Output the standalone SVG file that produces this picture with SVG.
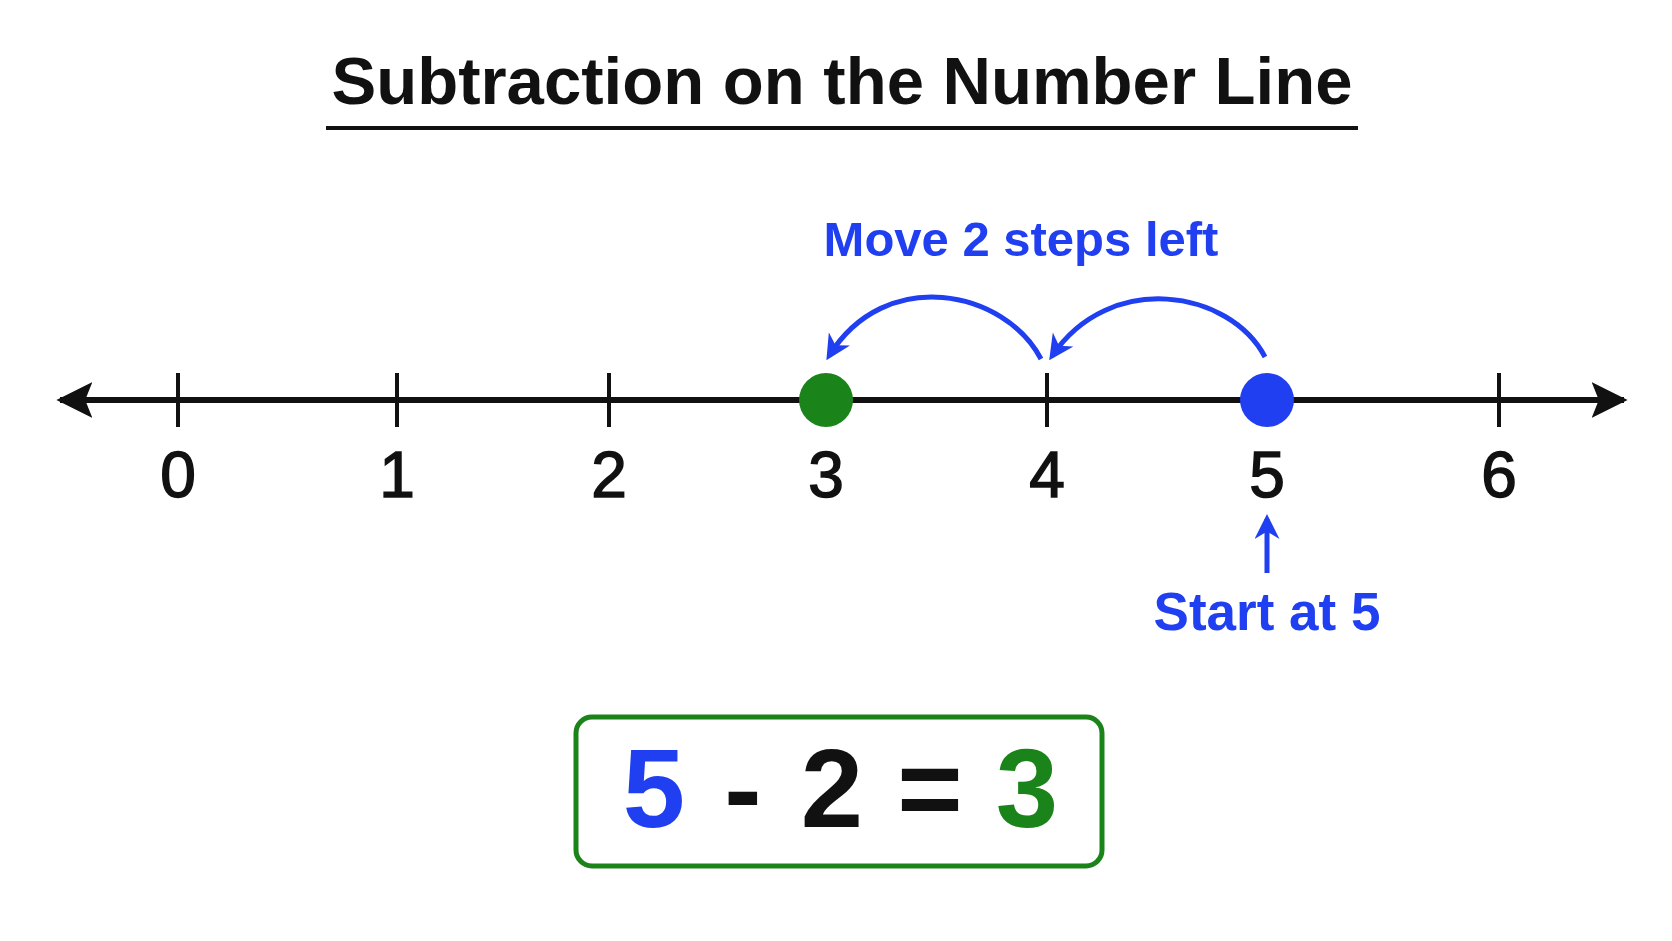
<svg xmlns="http://www.w3.org/2000/svg" width="1672" height="941" viewBox="0 0 1672 941">
<style>
text{font-family:"Liberation Sans","DejaVu Sans",sans-serif;font-weight:bold;text-anchor:middle}
.num{font-size:64px;fill:#111;font-weight:normal;stroke:#111;stroke-width:1.5}
.blue{fill:#1f3ff0}
.tick{stroke:#111;stroke-width:4}
</style>
<defs>
<marker id="ah" viewBox="0 0 10 10" refX="8" refY="5" markerWidth="5" markerHeight="5" orient="auto-start-reverse"><path d="M0,0L10,5L0,10L3,5Z" fill="#1f3ff0"/></marker>
<marker id="bk" viewBox="0 0 10 10" refX="9" refY="5" markerWidth="6" markerHeight="6" orient="auto-start-reverse"><path d="M0,0L10,5L0,10L2,5Z" fill="#111"/></marker>
</defs>
<rect width="1672" height="941" fill="#fff"/>
<g id="title">
<text x="842" y="104" font-size="66" textLength="1021" lengthAdjust="spacingAndGlyphs" fill="#111">Subtraction on the Number Line</text>
<line x1="326" y1="128" x2="1358" y2="128" stroke="#111" stroke-width="4"/>
</g>
<g id="numberline">
<line x1="60" y1="400" x2="1624" y2="400" stroke="#111" stroke-width="6" marker-start="url(#bk)" marker-end="url(#bk)"/>
<line class="tick" x1="178" y1="373" x2="178" y2="427"/>
<line class="tick" x1="397" y1="373" x2="397" y2="427"/>
<line class="tick" x1="609" y1="373" x2="609" y2="427"/>
<line class="tick" x1="1047" y1="373" x2="1047" y2="427"/>
<line class="tick" x1="1499" y1="373" x2="1499" y2="427"/>
<text class="num" x="178" y="497">0</text>
<text class="num" x="397" y="497">1</text>
<text class="num" x="609" y="497">2</text>
<text class="num" x="826" y="497">3</text>
<text class="num" x="1047" y="497">4</text>
<text class="num" x="1267" y="497">5</text>
<text class="num" x="1499" y="497">6</text>
</g>
<g id="point3"><circle cx="826" cy="400" r="27" fill="#1a841a"/></g>
<g id="point5"><circle cx="1267" cy="400" r="27" fill="#1f3ff0"/></g>
<g id="connectors" fill="none" stroke="#1f3ff0" stroke-width="5">
<path d="M1265,357 C1230,290 1110,270 1052,356" marker-end="url(#ah)"/>
<path d="M1041,359 C1005,290 885,265 829,356" marker-end="url(#ah)"/>
<path d="M1267,573 L1267,519" marker-end="url(#ah)"/>
</g>
<g id="label-move"><text class="blue" x="1021" y="256" font-size="49">Move 2 steps left</text></g>
<g id="label-start"><text class="blue" x="1267" y="630" font-size="53">Start at 5</text></g>
<g id="equation">
<rect x="576" y="717" width="526" height="149" rx="16" fill="#fff" stroke="#1a841a" stroke-width="5"/>
<text x="654" y="827" font-size="112" class="blue">5</text>
<text x="743" y="827" font-size="112" fill="#111">-</text>
<text x="832" y="827" font-size="112" fill="#111">2</text>
<text x="930" y="827" font-size="112" fill="#111">=</text>
<text x="1027" y="827" font-size="112" fill="#1a841a">3</text>
</g>
</svg>
